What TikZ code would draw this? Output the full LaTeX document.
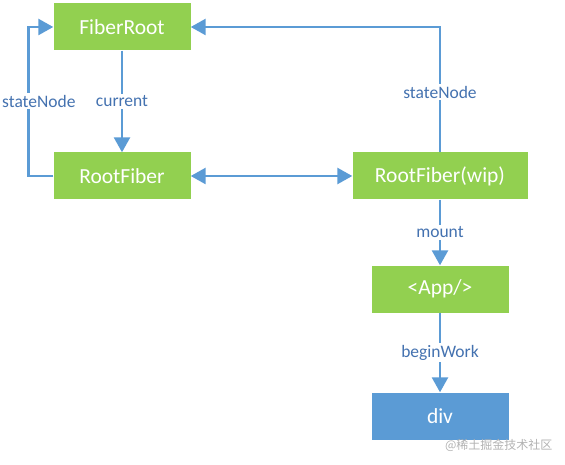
\documentclass[tikz,border=0pt]{standalone}
\usepackage{fontspec}
\setmainfont{Carlito}
\newfontfamily\cjk{Noto Sans CJK SC}
\usetikzlibrary{arrows.meta}

\definecolor{boxgreen}{RGB}{146,208,80}
\definecolor{boxblue}{RGB}{91,155,213}
\definecolor{linkblue}{RGB}{91,155,213}
\definecolor{labelblue}{RGB}{68,114,176}

\tikzset{
  fiber/.style={fill=boxgreen, text=white, minimum width=137pt, minimum height=47pt, font=\fontsize{21.5}{24}\selectfont},
  link/.style={draw=linkblue, line width=2.6pt},
  tag/.style={fill=white, text=labelblue, inner sep=2pt, font=\fontsize{17.5}{20}\selectfont}
}

\begin{document}
\begin{tikzpicture}[x=1pt, y=-1pt, >={Triangle[length=15pt, width=16pt]}]

\useasboundingbox (0, 0) rectangle (565, 465);

\node[fiber] (root) at (122, 27) {FiberRoot};
\node[fiber] (cur) at (122, 176) {RootFiber};
\node[fiber, minimum width=175pt] (wip) at (440, 176) {RootFiber(wip)};
\node[fiber] (app) at (440, 289) {<App/>};
\node[fiber, fill=boxblue] (div) at (440, 416) {div};

\draw[link, ->] (root) -- node[tag] {current} (cur);
\draw[link, ->] (cur.west) -- ++(-25, 0) coordinate (bend) |- (root.west);
\node[tag, anchor=west] (leftstate) at (0, 101) {stateNode};
\draw[link, <->] (cur) -- (wip);
\draw[link, ->] (wip.north) |- node[tag, pos=0.24] {stateNode} (root.east);
\draw[link, ->] (wip) -- node[tag] {mount} (app);
\draw[link, ->] (app) -- node[tag] {beginWork} (div);

\node[text=gray!60, font=\cjk\fontsize{12}{14}\selectfont, anchor=east] (mark) at (556, 445) {@稀土掘金技术社区};

\end{tikzpicture}
\end{document}
